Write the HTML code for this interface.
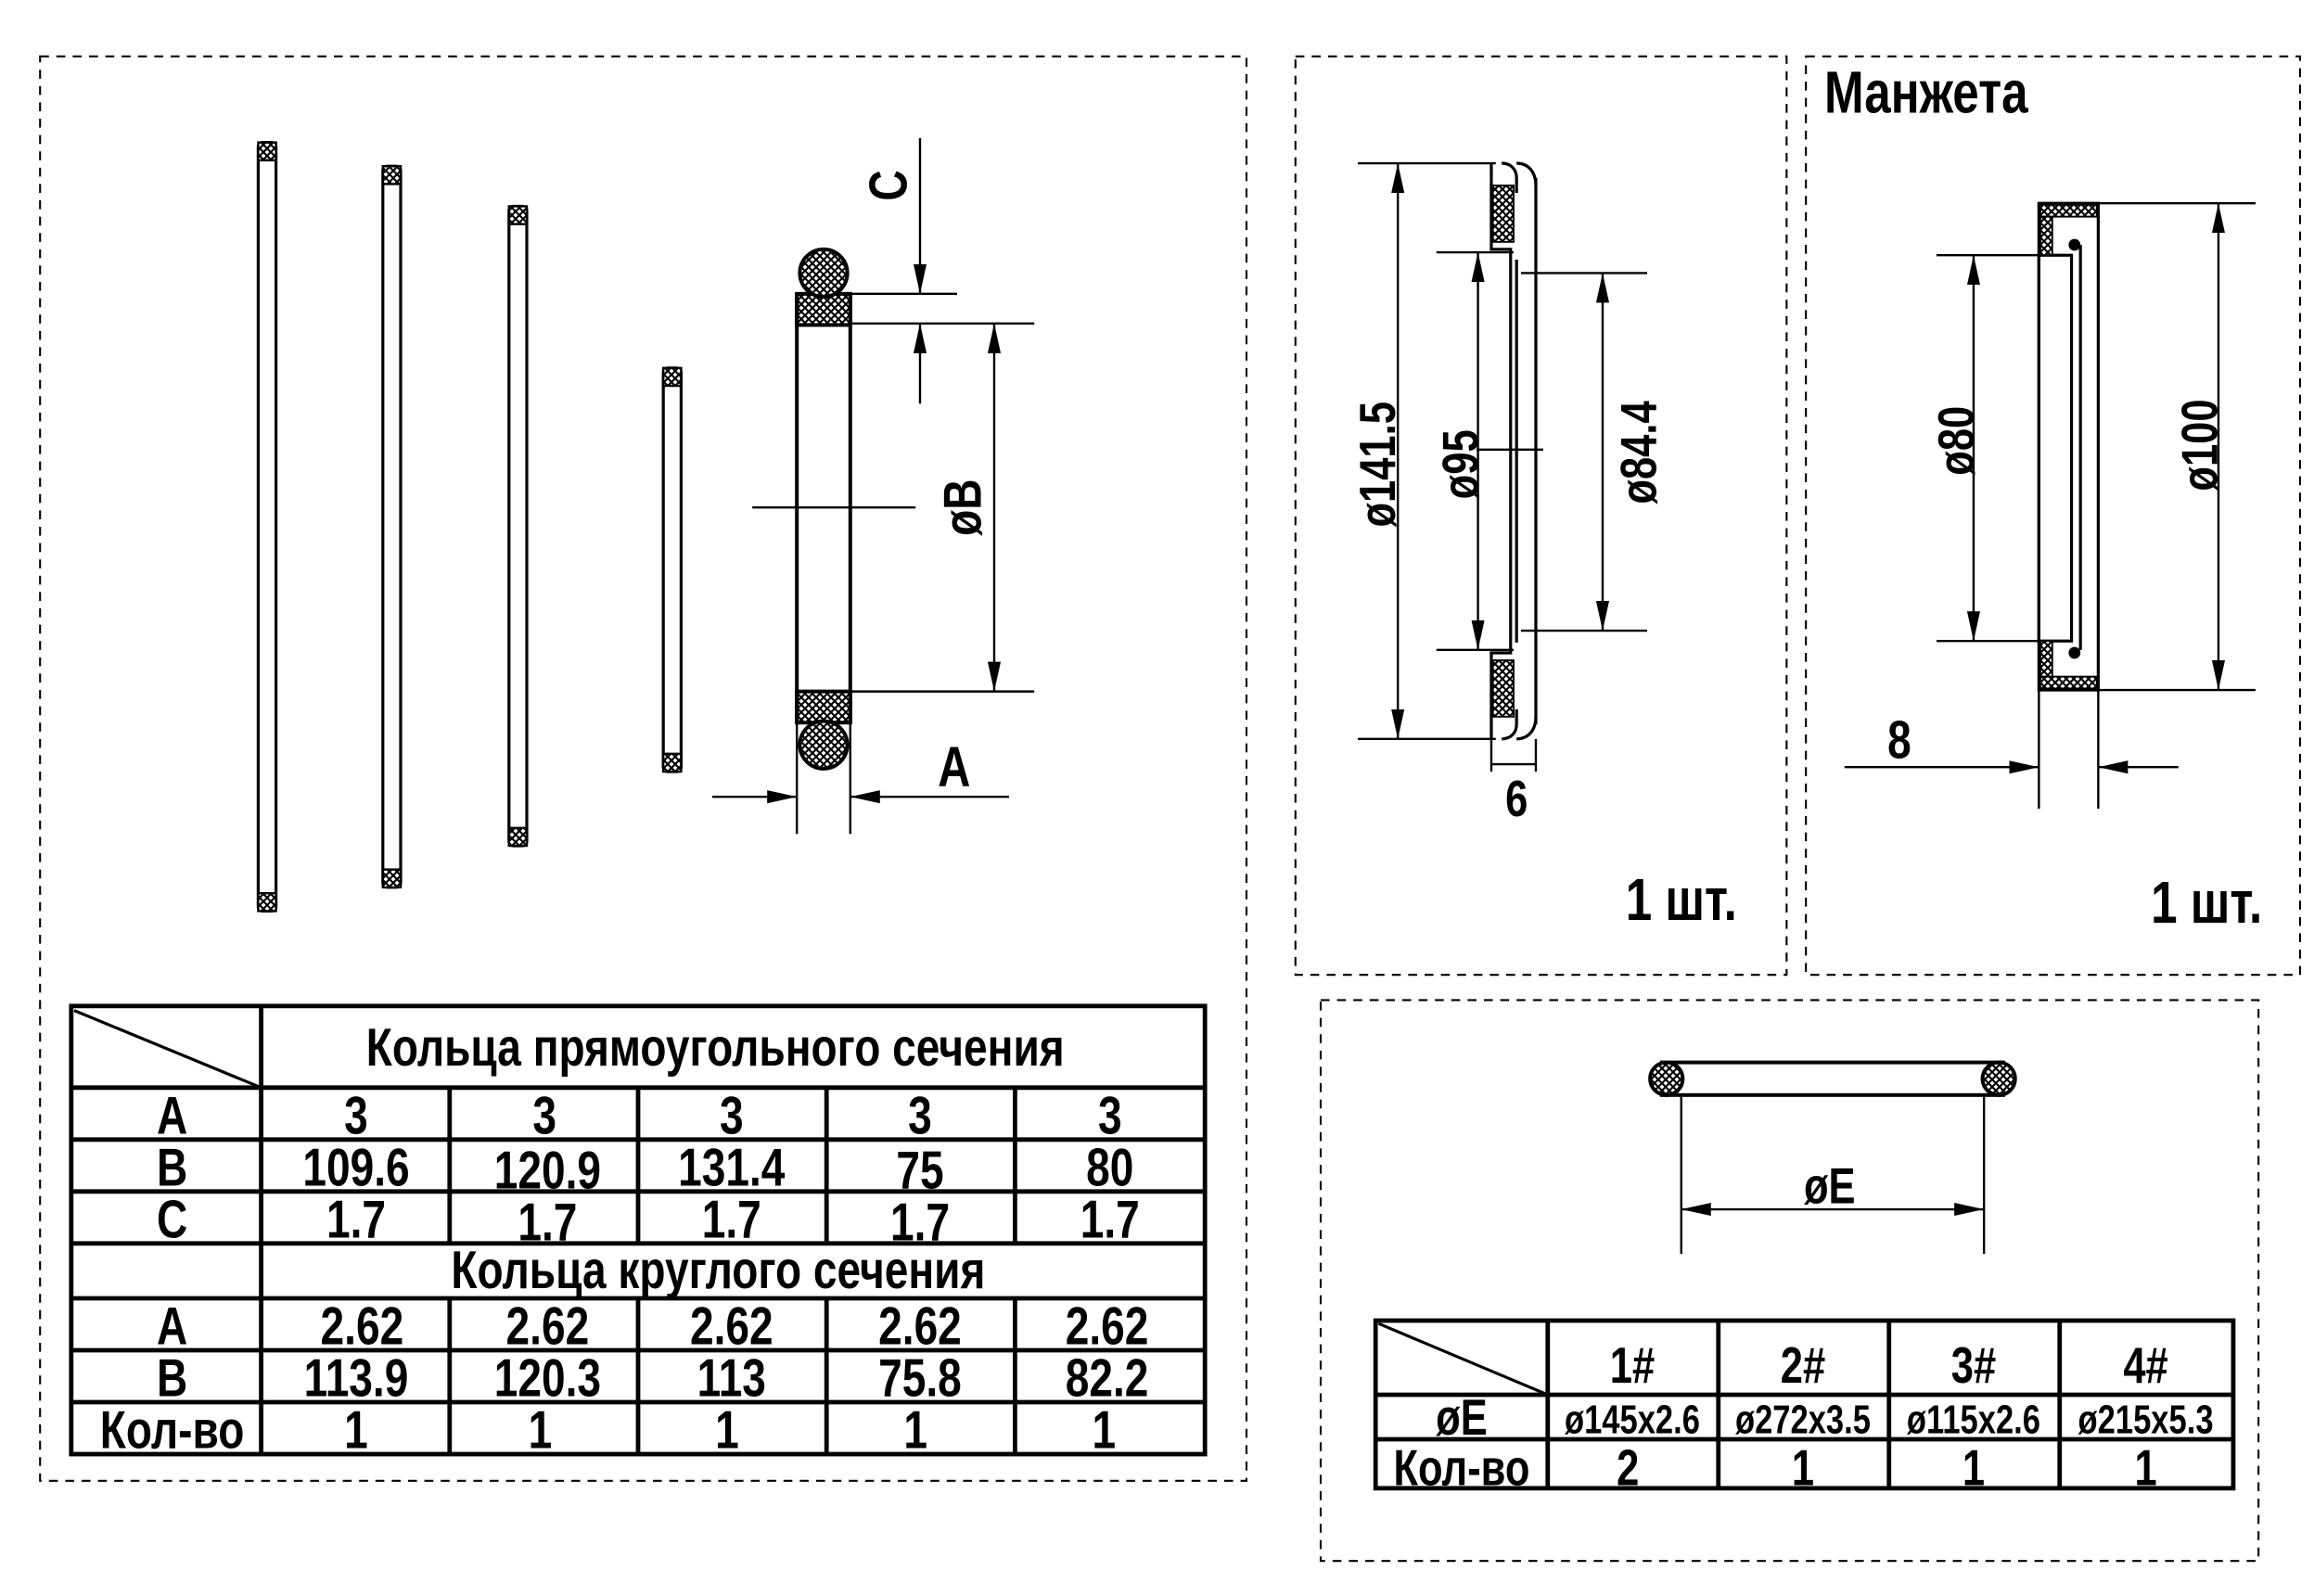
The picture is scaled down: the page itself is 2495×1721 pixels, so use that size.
<!DOCTYPE html>
<html><head><meta charset="utf-8"><style>
html,body{margin:0;padding:0;background:#fff;}
svg{display:block;}
text{font-family:"Liberation Sans",sans-serif;font-weight:bold;fill:#000;transform-box:fill-box;transform-origin:center;transform:scaleX(0.8);}
</style></head><body>
<svg width="2495" height="1721" viewBox="0 0 1559.4 1075.6" xmlns="http://www.w3.org/2000/svg">
<defs>
<pattern id="h" width="5" height="5" patternUnits="userSpaceOnUse">
<rect width="5" height="5" fill="#fff"/>
<path d="M0 0L5 5M5 0L0 5" stroke="#000" stroke-width="1.3"/>
</pattern>
<marker id="a" viewBox="0 0 10 10" refX="10" refY="5" markerWidth="20" markerHeight="20" markerUnits="userSpaceOnUse" orient="auto-start-reverse">
<path d="M0 2.8L10 5L0 7.2z" fill="#000"/>
</marker>
</defs>
<g fill="none" stroke="#000" stroke-width="1.3" stroke-dasharray="6,5">
<rect x="27" y="38" width="813" height="960"/>
<rect x="873" y="38" width="331" height="619"/>
<rect x="1217" y="38" width="333" height="619"/>
<rect x="890" y="674" width="632" height="378"/>
</g>

<g stroke="#000" stroke-width="2" fill="#fff">
<rect x="174" y="96" width="12" height="518" rx="3"/>
<rect x="258" y="112" width="12" height="486" rx="3"/>
<rect x="343" y="139" width="12" height="431" rx="3"/>
<rect x="447" y="248" width="12" height="272" rx="3"/>
</g>
<g fill="url(#h)" stroke="#000" stroke-width="1.5">
<rect x="174" y="96" width="12" height="12"/><rect x="174" y="602" width="12" height="12"/>
<rect x="258" y="112" width="12" height="12"/><rect x="258" y="586" width="12" height="12"/>
<rect x="343" y="139" width="12" height="12"/><rect x="343" y="558" width="12" height="12"/>
<rect x="447" y="248" width="12" height="12"/><rect x="447" y="508" width="12" height="12"/>
</g>

<g stroke="#000" stroke-width="2.5" fill="none">
<line x1="537" y1="198" x2="537" y2="487"/><line x1="573" y1="198" x2="573" y2="487"/>
</g>
<g stroke="#000" stroke-width="2.5" fill="url(#h)">
<rect x="537" y="198" width="36" height="21"/>
<rect x="537" y="466" width="36" height="21"/>
<circle cx="555" cy="184" r="16"/>
<circle cx="555" cy="502" r="16"/>
</g>
<g stroke="#000" stroke-width="1.5" fill="none">
<line x1="507" y1="342" x2="617" y2="342"/>
<line x1="573" y1="198" x2="645" y2="198"/>
<line x1="573" y1="218" x2="697" y2="218"/>
<line x1="573" y1="466" x2="697" y2="466"/>
<line x1="620" y1="93" x2="620" y2="198" marker-end="url(#a)"/>
<line x1="620" y1="272" x2="620" y2="218" marker-end="url(#a)"/>
<line x1="670" y1="218" x2="670" y2="466" marker-start="url(#a)" marker-end="url(#a)"/>
<line x1="537" y1="487" x2="537" y2="562"/><line x1="573" y1="487" x2="573" y2="562"/>
<line x1="480" y1="537" x2="537" y2="537" marker-end="url(#a)"/>
<line x1="680" y1="537" x2="573" y2="537" marker-end="url(#a)"/>
</g>
<g transform="translate(611,125) rotate(-90)"><text font-size="36" text-anchor="middle">C</text></g>
<g transform="translate(661,342) rotate(-90)"><text font-size="36" text-anchor="middle">øB</text></g>
<text x="643" y="530" font-size="38" text-anchor="middle">A</text>

<g stroke="#000" stroke-width="3" fill="none">
<rect x="48" y="678" width="764" height="302"/>
<line x1="48" y1="733" x2="812" y2="733"/><line x1="48" y1="768" x2="812" y2="768"/>
<line x1="48" y1="803" x2="812" y2="803"/><line x1="48" y1="838" x2="812" y2="838"/>
<line x1="48" y1="875" x2="812" y2="875"/><line x1="48" y1="910" x2="812" y2="910"/>
<line x1="48" y1="945" x2="812" y2="945"/>
<line x1="176" y1="678" x2="176" y2="980"/>
<path d="M303 733V838M430 733V838M557 733V838M684 733V838M303 875V980M430 875V980M557 875V980M684 875V980"/>
<line x1="50" y1="681" x2="176" y2="733" stroke-width="2"/>
</g>
<g font-size="36" text-anchor="middle">
<text x="482" y="718">Кольца прямоугольного сечения</text>
<text x="116" y="764">A</text><text x="116" y="799">B</text><text x="116" y="834">C</text>
<text x="484" y="868">Кольца круглого сечения</text>
<text x="116" y="906">A</text><text x="116" y="941">B</text><text x="116" y="976">Кол-во</text>
<text x="240" y="764">3</text><text x="367" y="764">3</text><text x="493" y="764">3</text><text x="620" y="764">3</text><text x="748" y="764">3</text>
<text x="240" y="799">109.6</text><text x="369" y="801">120.9</text><text x="493" y="799">131.4</text><text x="620" y="801">75</text><text x="748" y="799">80</text>
<text x="240" y="834">1.7</text><text x="369" y="836">1.7</text><text x="493" y="834">1.7</text><text x="620" y="836">1.7</text><text x="748" y="834">1.7</text>
<text x="244" y="906">2.62</text><text x="369" y="906">2.62</text><text x="493" y="906">2.62</text><text x="620" y="906">2.62</text><text x="746" y="906">2.62</text>
<text x="240" y="941">113.9</text><text x="369" y="941">120.3</text><text x="493" y="941">113</text><text x="620" y="941">75.8</text><text x="746" y="941">82.2</text>
<text x="240" y="976">1</text><text x="364" y="976">1</text><text x="490" y="976">1</text><text x="617" y="976">1</text><text x="744" y="976">1</text>
</g>

<g stroke="#000" stroke-width="1.5" fill="none">
<line x1="915" y1="110" x2="1008" y2="110"/><line x1="915" y1="498" x2="1008" y2="498"/>
<line x1="942" y1="110" x2="942" y2="498" marker-start="url(#a)" marker-end="url(#a)"/>
<line x1="968" y1="170" x2="1020" y2="170"/><line x1="968" y1="438" x2="1020" y2="438"/>
<line x1="996" y1="170" x2="996" y2="438" marker-start="url(#a)" marker-end="url(#a)"/>
<line x1="1025" y1="184" x2="1110" y2="184"/><line x1="1025" y1="425" x2="1110" y2="425"/>
<line x1="1080" y1="184" x2="1080" y2="425" marker-start="url(#a)" marker-end="url(#a)"/>
<line x1="995" y1="303" x2="1040" y2="303"/>
<line x1="1005" y1="498" x2="1005" y2="520"/><line x1="1035" y1="498" x2="1035" y2="520"/>
<line x1="1005" y1="515" x2="1035" y2="515"/>
</g>
<g stroke="#000" stroke-width="2" fill="none">
<path d="M1005 110V168H1018V440H1005V498"/>
<path d="M1035 120V488"/>
<path d="M1022 175V433"/>
<path d="M1012 110C1018 110 1022 114 1022 120V130M1022 110C1030 110 1035 116 1035 125M1012 498C1018 498 1022 494 1022 488V478M1022 498C1030 498 1035 492 1035 483"/>
</g>
<g fill="url(#h)" stroke="#000" stroke-width="1.2">
<rect x="1006" y="125" width="14" height="38"/><rect x="1006" y="445" width="14" height="38"/>
</g>
<g transform="translate(940,313) rotate(-90)"><text font-size="34" text-anchor="middle">ø141.5</text></g>
<g transform="translate(996,313) rotate(-90)"><text font-size="34" text-anchor="middle">ø95</text></g>
<g transform="translate(1116,305) rotate(-90)"><text font-size="34" text-anchor="middle">ø84.4</text></g>
<text x="1022" y="550" font-size="34" text-anchor="middle">6</text>
<text x="1133" y="620" font-size="40" text-anchor="middle">1 шт.</text>

<text x="1298" y="76" font-size="40" text-anchor="middle">Манжета</text>
<g stroke="#000" stroke-width="2" fill="none">
<rect x="1374" y="137" width="40" height="328"/>
<rect x="1374" y="172" width="22" height="260"/>
<line x1="1402" y1="165" x2="1402" y2="438"/>
</g>
<g fill="url(#h)" stroke="#000" stroke-width="1.2">
<rect x="1375" y="138" width="38" height="8"/><rect x="1375" y="146" width="8" height="26"/>
<rect x="1375" y="456" width="38" height="8"/><rect x="1375" y="432" width="8" height="24"/>
</g>
<circle cx="1398" cy="165" r="4" fill="#000"/><circle cx="1398" cy="440" r="4" fill="#000"/>
<g stroke="#000" stroke-width="1.5" fill="none">
<line x1="1414" y1="137" x2="1520" y2="137"/><line x1="1414" y1="465" x2="1520" y2="465"/>
<line x1="1495" y1="137" x2="1495" y2="465" marker-start="url(#a)" marker-end="url(#a)"/>
<line x1="1305" y1="172" x2="1374" y2="172"/><line x1="1305" y1="432" x2="1374" y2="432"/>
<line x1="1330" y1="172" x2="1330" y2="432" marker-start="url(#a)" marker-end="url(#a)"/>
<line x1="1374" y1="465" x2="1374" y2="545"/><line x1="1414" y1="465" x2="1414" y2="545"/>
<line x1="1243" y1="517" x2="1374" y2="517" marker-end="url(#a)"/>
<line x1="1468" y1="517" x2="1414" y2="517" marker-end="url(#a)"/>
</g>
<g transform="translate(1330,297) rotate(-90)"><text font-size="34" text-anchor="middle">ø80</text></g>
<g transform="translate(1494,300) rotate(-90)"><text font-size="34" text-anchor="middle">ø100</text></g>
<text x="1280" y="511" font-size="36" text-anchor="middle">8</text>
<text x="1487" y="622" font-size="40" text-anchor="middle">1 шт.</text>

<g stroke="#000" stroke-width="2.5">
<rect x="1120" y="716" width="230" height="22" fill="#fff"/>
<circle cx="1123" cy="727" r="11" fill="url(#h)"/>
<circle cx="1347" cy="727" r="11" fill="url(#h)"/>
</g>
<g stroke="#000" stroke-width="1.5" fill="none">
<line x1="1133" y1="738" x2="1133" y2="845"/><line x1="1337" y1="738" x2="1337" y2="845"/>
<line x1="1133" y1="815" x2="1337" y2="815" marker-start="url(#a)" marker-end="url(#a)"/>
</g>
<text x="1233" y="811" font-size="34" text-anchor="middle">øE</text>

<g stroke="#000" stroke-width="3" fill="none">
<rect x="927" y="890" width="578" height="113"/>
<line x1="927" y1="940" x2="1505" y2="940"/><line x1="927" y1="970" x2="1505" y2="970"/>
<path d="M1043 890V1003M1158 890V1003M1273 890V1003M1388 890V1003"/>
<line x1="929" y1="892" x2="1043" y2="940" stroke-width="2"/>
</g>
<g font-size="34" text-anchor="middle">
<text x="1100" y="932">1#</text><text x="1215" y="932">2#</text><text x="1330" y="932">3#</text><text x="1446" y="932">4#</text>
<text x="985" y="967">øE</text>
<text x="985" y="1001">Кол-во</text>
<text x="1097" y="1001">2</text><text x="1215" y="1001">1</text><text x="1330" y="1001">1</text><text x="1446" y="1001">1</text>
</g>
<g font-size="27" text-anchor="middle">
<text x="1100" y="966">ø145x2.6</text><text x="1215" y="966">ø272x3.5</text><text x="1330" y="966">ø115x2.6</text><text x="1446" y="966">ø215x5.3</text>
</g>
</svg>
</body></html>
